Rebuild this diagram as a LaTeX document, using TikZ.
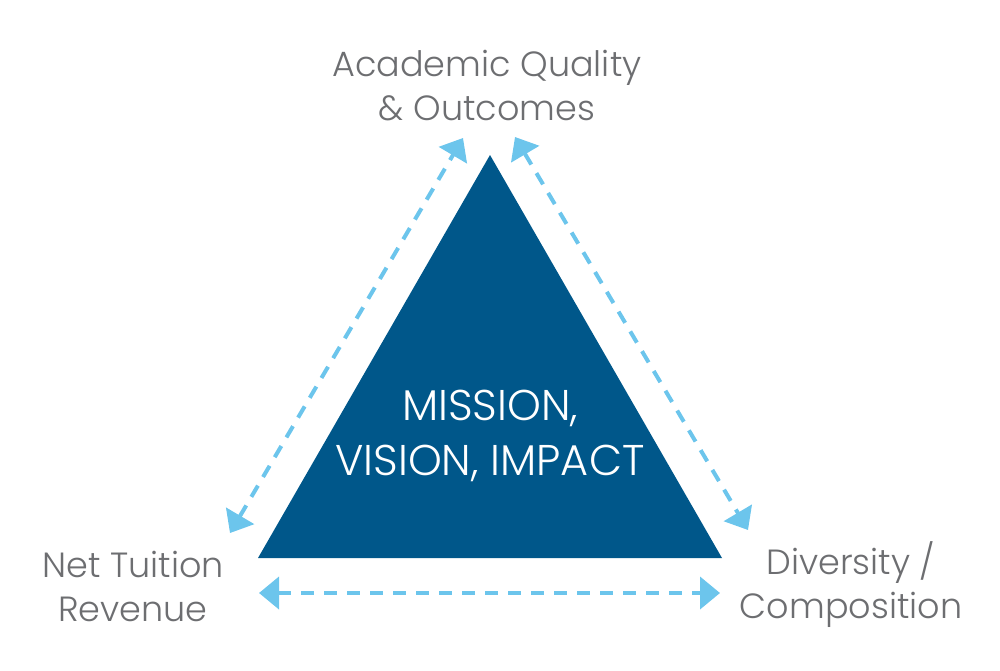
\documentclass[tikz,border=0pt]{standalone}
\usepackage{fontspec}
\setmainfont{Poppins Light}
\usetikzlibrary{arrows.meta}
\definecolor{triblue}{HTML}{00578A}
\definecolor{arrblue}{HTML}{6CC5EC}
\definecolor{txtgray}{HTML}{6D6E71}
\tikzset{
  dasharrow/.style={draw=arrblue, line width=4pt, dash pattern=on 13pt off 10pt,
    {Triangle[length=20pt,width=32pt]}-{Triangle[length=20pt,width=32pt]}},
  lbl/.style={text=txtgray, font=\fontsize{35}{44}\selectfont, align=center, inner sep=0pt, anchor=base},
  inlbl/.style={text=white, font=\fontsize{43}{55}\selectfont, align=center, inner sep=0pt, anchor=base}
}
\begin{document}
\begin{tikzpicture}[x=1pt,y=-1pt]
\useasboundingbox (0,0) rectangle (1000,670);
\coordinate (apex) at (490,155);
\coordinate (bl) at (258,558);
\coordinate (br) at (722,558);
\fill[triblue] (apex) -- (bl) -- (br) -- cycle;
\node[inlbl] (mission) at (490,475) {MISSION,\\VISION, IMPACT};
\node[lbl] (acad) at (487,120) {Academic Quality\\\& Outcomes};
\node[lbl] (net) at (133,621) {Net Tuition\\Revenue};
\node[lbl] (div) at (851,618) {Diversity /\\Composition};
\coordinate (l1) at (230,533);
\coordinate (l2) at (463,138);
\coordinate (r1) at (515,137);
\coordinate (r2) at (748,530);
\coordinate (b1) at (259,593);
\coordinate (b2) at (720,593);
\draw[dasharrow] (l1) -- (l2);
\draw[dasharrow] (r1) -- (r2);
\draw[dasharrow] (b1) -- (b2);
\end{tikzpicture}
\end{document}
